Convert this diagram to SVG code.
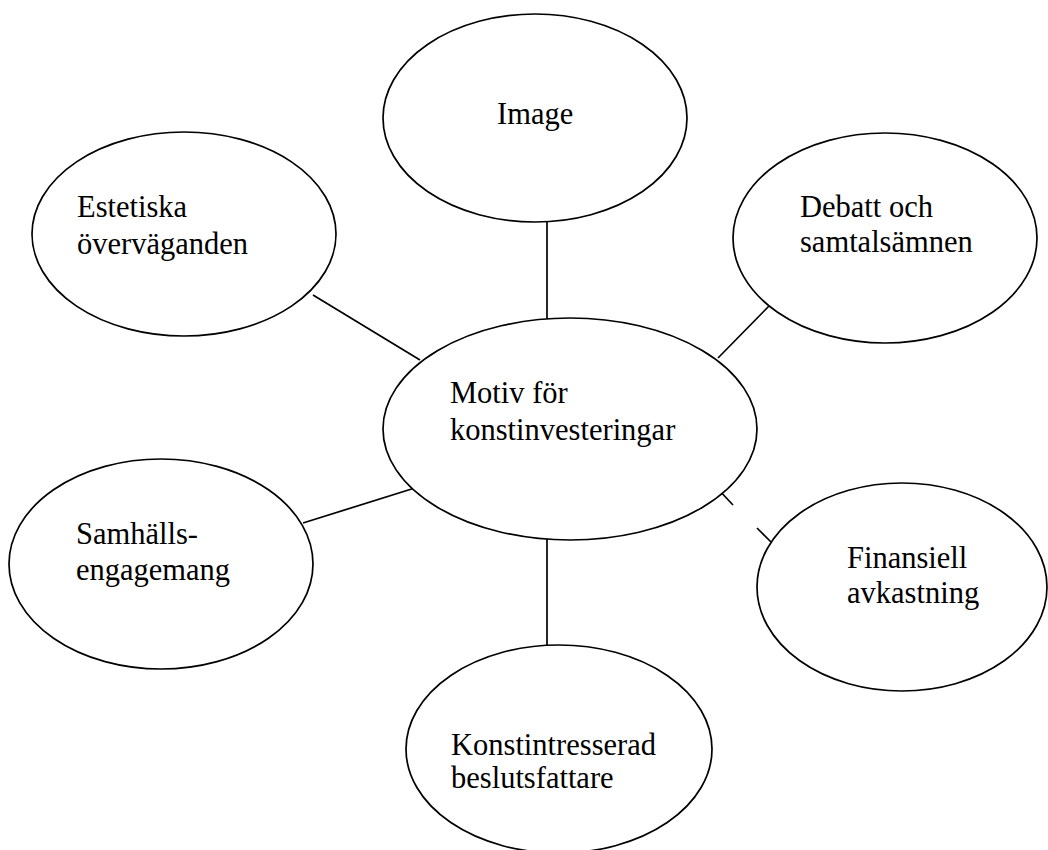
<svg xmlns="http://www.w3.org/2000/svg" width="1048" height="850" viewBox="0 0 1048 850">
<style>
.n{fill:#fff;stroke:#000;stroke-width:1.7}
.c line{stroke:#000;stroke-width:1.7}
text{font-family:"Liberation Serif","Times New Roman",serif;font-size:30.5px;fill:#000}
</style>
<rect width="1048" height="850" fill="#fff"/>
<g class="c" id="connectors">
<line x1="547" y1="222" x2="547" y2="319"/>
<line x1="313" y1="295" x2="420" y2="360"/>
<line x1="770" y1="305" x2="718" y2="358"/>
<line x1="303" y1="523" x2="418" y2="487"/>
<line x1="547" y1="539" x2="547" y2="646"/>
<line x1="717" y1="488" x2="733" y2="505"/>
<line x1="757" y1="528" x2="771" y2="542"/>
</g>
<g id="image"><ellipse class="n" cx="535" cy="118" rx="152" ry="104"/><text x="497" y="124">Image</text></g>
<g id="estetiska"><ellipse class="n" cx="184" cy="234" rx="152" ry="102"/><text x="77" y="217">Estetiska</text><text x="77" y="254">överväganden</text></g>
<g id="debatt"><ellipse class="n" cx="885" cy="238" rx="152" ry="105"/><text x="800" y="217">Debatt och</text><text x="800" y="252">samtalsämnen</text></g>
<g id="motiv"><ellipse class="n" cx="570" cy="429" rx="187" ry="111"/><text x="450" y="403">Motiv för</text><text x="450" y="440">konstinvesteringar</text></g>
<g id="samhalls"><ellipse class="n" cx="161" cy="564" rx="152" ry="105"/><text x="76" y="544">Samhälls-</text><text x="76" y="580">engagemang</text></g>
<g id="finansiell"><ellipse class="n" cx="902" cy="587" rx="145" ry="104"/><text x="847" y="568">Finansiell</text><text x="847" y="603">avkastning</text></g>
<g id="konst"><ellipse class="n" cx="559" cy="749" rx="153" ry="104"/><text x="451" y="755">Konstintresserad</text><text x="451" y="788">beslutsfattare</text></g>
</svg>
